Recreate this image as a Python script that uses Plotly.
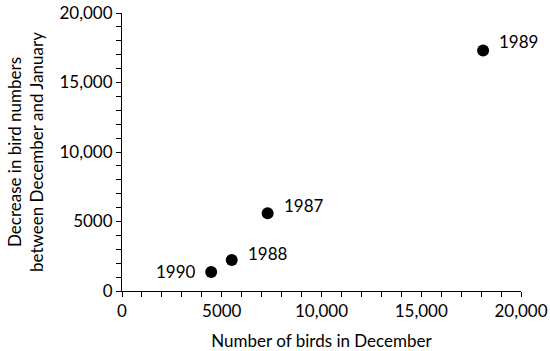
import plotly.graph_objects as go

years = ["1987", "1988", "1989", "1990"]
birds_december = [7300, 5500, 18100, 4470]
decrease = [5600, 2230, 17300, 1370]

x_tickvals = [0, 5000, 10000, 15000, 20000]
x_ticktext = ["0", "5000", "10,000", "15,000", "20,000"]
y_tickvals = [0, 5000, 10000, 15000, 20000]
y_ticktext = ["0", "5000", "10,000", "15,000", "20,000"]

FONT = "Lato"
FS = 17

fig = go.Figure()
fig.add_trace(go.Scatter(
    x=birds_december, y=decrease, mode="markers",
    marker=dict(size=12, color="black"),
    hoverinfo="skip", showlegend=False,
))

offsets = {"1987": (14, 8, "left"), "1988": (14, 7, "left"),
           "1989": (14, 9, "left"), "1990": (-13, 0, "right")}
for yr, xv, yv in zip(years, birds_december, decrease):
    xs, ys, anc = offsets[yr]
    fig.add_annotation(x=xv, y=yv, text=yr, showarrow=False,
                       xanchor=anc, yanchor="middle", xshift=xs, yshift=ys,
                       font=dict(family=FONT, size=FS, color="black"))

axis_common = dict(
    showgrid=False, zeroline=False, showline=True, linecolor="black", linewidth=1,
    ticks="outside", ticklen=5, tickcolor="black", tickwidth=1,
    tickfont=dict(family=FONT, size=FS, color="black"), automargin=False,
    ticklabeloverflow="allow",
    minor=dict(dtick=1000, ticks="outside", ticklen=5, tickcolor="black", tickwidth=1),
)

fig.update_layout(
    width=550, height=351,
    margin=dict(l=122, r=29, t=13, b=60),
    paper_bgcolor="white", plot_bgcolor="white",
    xaxis=dict(range=[0, 20000], tickvals=x_tickvals, ticktext=x_ticktext,
               title=dict(text="Number of birds in December", standoff=20,
                          font=dict(family=FONT, size=FS, color="black")),
               **axis_common),
    yaxis=dict(range=[0, 20000], tickvals=y_tickvals, ticktext=y_ticktext,
               title=dict(text="Decrease in bird numbers<br>between December and January",
                          standoff=11, font=dict(family=FONT, size=FS, color="black")),
               **axis_common),
)

fig.write_html("out.html", config={"displayModeBar": False},
               post_script="document.body.style.margin='0';")
